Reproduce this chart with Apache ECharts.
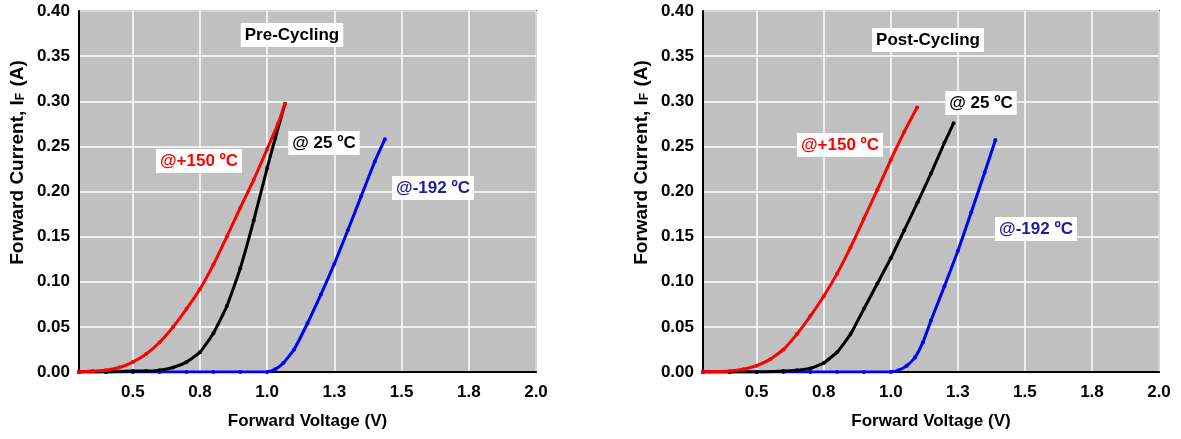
<!DOCTYPE html>
<html><head><meta charset="utf-8">
<script src="https://cdn.jsdelivr.net/npm/echarts@6/dist/echarts.min.js"></script>
<style>html,body{margin:0;padding:0;background:#fff}#c{width:1181px;height:439px}</style>
</head><body><div id="c"></div>
<script>
// ---- data ----
const xTickValues = [0.5, 0.75, 1.0, 1.25, 1.5, 1.75, 2.0];
const xTickLabels = ['0.5', '0.8', '1.0', '1.3', '1.5', '1.8', '2.0'];
const panelTitles = ['Pre-Cycling', 'Post-Cycling'];
const seriesNames = ['@+150 \u00baC', '@ 25 \u00baC', '@-192 \u00baC'];

// Pre-cycling: [V, A]
const preHot = [[0.30,0.000],[0.35,0.001],[0.40,0.002],[0.45,0.005],[0.50,0.011],[0.55,0.020],[0.60,0.033],[0.65,0.050],[0.70,0.070],[0.75,0.092],[0.80,0.119],[0.85,0.150],[0.90,0.182],[0.95,0.213],[1.00,0.247],[1.04,0.275],[1.066,0.297]];
const preRoom = [[0.30,0.000],[0.40,0.000],[0.50,0.001],[0.55,0.001],[0.60,0.002],[0.65,0.005],[0.70,0.011],[0.75,0.022],[0.80,0.043],[0.85,0.073],[0.90,0.115],[0.95,0.168],[1.00,0.226],[1.03,0.259],[1.066,0.297]];
const preCold = [[0.30,0.000],[0.40,0.000],[0.50,0.000],[0.60,0.000],[0.70,0.000],[0.80,0.000],[0.90,0.000],[1.00,0.000],[1.03,0.003],[1.06,0.010],[1.10,0.025],[1.15,0.054],[1.20,0.086],[1.25,0.120],[1.30,0.157],[1.35,0.195],[1.40,0.233],[1.438,0.258]];

// Post-cycling: [V, A]
const postHot = [[0.30,0.000],[0.40,0.001],[0.45,0.003],[0.50,0.007],[0.55,0.014],[0.60,0.025],[0.65,0.042],[0.70,0.062],[0.75,0.084],[0.80,0.109],[0.85,0.138],[0.90,0.170],[0.95,0.202],[1.00,0.235],[1.05,0.266],[1.098,0.293]];
const postRoom = [[0.30,0.000],[0.40,0.000],[0.50,0.000],[0.60,0.001],[0.65,0.002],[0.70,0.004],[0.75,0.010],[0.80,0.022],[0.85,0.042],[0.90,0.070],[0.95,0.098],[1.00,0.126],[1.05,0.157],[1.10,0.188],[1.15,0.220],[1.20,0.254],[1.234,0.2755]];
const postCold = [[0.30,0.000],[0.40,0.000],[0.50,0.000],[0.60,0.000],[0.70,0.000],[0.80,0.000],[0.90,0.000],[1.00,0.000],[1.03,0.002],[1.06,0.007],[1.09,0.016],[1.12,0.033],[1.15,0.057],[1.20,0.095],[1.25,0.134],[1.30,0.177],[1.35,0.221],[1.39,0.257]];

// ---- chart ----
const FONT = "'Liberation Sans', Arial, sans-serif";
const colors = ['#ff0000', '#000000', '#0000ff'];
const labelColors = ['#ff0000', '#000000', '#1c1c9c'];

const grids = [
  {left: 79, top: 11, width: 457, height: 361},
  {left: 703, top: 11, width: 456, height: 361}
].map(g => Object.assign(g, {show: true, backgroundColor: '#c0c0c0', borderColor: '#5a5a5a', borderWidth: 2}));

function xAxis(i) {
  return {
    type: 'value', gridIndex: i, min: 0.3, max: 2.0,
    name: 'Forward Voltage (V)', nameLocation: 'middle', nameGap: 41,
    nameTextStyle: {fontFamily: FONT, fontWeight: 'bold', fontSize: 17, color: '#000'},
    axisLine: {show: true, onZero: false, lineStyle: {color: '#000', width: 2}},
    axisTick: {show: false, customValues: xTickValues},
    axisLabel: {customValues: xTickValues, margin: 12, fontFamily: FONT, fontWeight: 'bold', fontSize: 17, color: '#000',
      formatter: v => { const k = xTickValues.findIndex(t => Math.abs(t - v) < 1e-9); return k >= 0 ? xTickLabels[k] : ''; }},
    splitLine: {show: true, lineStyle: {color: '#ffffff', width: 1.5}}
  };
}
function yAxis(i) {
  return {
    type: 'value', gridIndex: i, min: 0, max: 0.4, interval: 0.05,
    name: 'Forward Current, I{sub|F} (A)', nameLocation: 'middle', nameGap: 52, nameRotate: 90,
    nameTextStyle: {fontFamily: FONT, fontWeight: 'bold', fontSize: 19, color: '#000', padding: [0, 0, 0, 58],
      rich: {sub: {fontFamily: FONT, fontWeight: 'bold', fontSize: 12, color: '#000', verticalAlign: 'bottom', padding: [7, 1, 0, 0]}}},
    axisLine: {show: true, lineStyle: {color: '#000', width: 2}},
    axisTick: {show: false},
    axisLabel: {margin: 9, fontFamily: FONT, fontWeight: 'bold', fontSize: 17, color: '#000', formatter: v => v.toFixed(2)},
    splitLine: {show: true, lineStyle: {color: '#ffffff', width: 1.5}}
  };
}

const panelData = [[preHot, preRoom, preCold], [postHot, postRoom, postCold]];
const series = [];
panelData.forEach((arrs, p) => arrs.forEach((d, k) => series.push({
  type: 'line', name: seriesNames[k], xAxisIndex: p, yAxisIndex: p, data: d,
  smooth: 0.15, showSymbol: true, symbol: 'circle', symbolSize: 4,
  lineStyle: {color: colors[k], width: 3}, itemStyle: {color: colors[k]}, z: 3 + (2 - k)
})));

function box(text, cx, cy, color) {
  return {type: 'text', x: cx, y: cy, z: 100,
    style: {text: text, fill: color, font: "bold 17px 'Liberation Sans', Arial, sans-serif",
      align: 'center', verticalAlign: 'middle', backgroundColor: '#ffffff', padding: [4, 4, 3, 4]}};
}

const graphic = [
  box(panelTitles[0], 292, 35, '#000'),
  box(seriesNames[0], 199, 161, labelColors[0]),
  box(seriesNames[1], 324, 143, labelColors[1]),
  box(seriesNames[2], 433, 188, labelColors[2]),
  box(panelTitles[1], 928, 40, '#000'),
  box(seriesNames[0], 840, 145, labelColors[0]),
  box(seriesNames[1], 981, 103, labelColors[1]),
  box(seriesNames[2], 1036, 229, labelColors[2])
];

const chart = echarts.init(document.getElementById('c'), null, {renderer: 'canvas'});
chart.setOption({
  animation: false,
  backgroundColor: '#ffffff',
  grid: grids,
  xAxis: [xAxis(0), xAxis(1)],
  yAxis: [yAxis(0), yAxis(1)],
  series: series,
  graphic: graphic
});
</script></body></html>
